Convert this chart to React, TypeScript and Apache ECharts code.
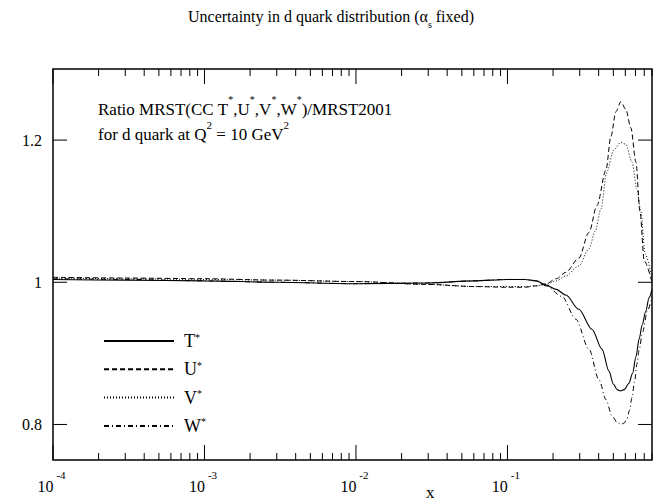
import React, { useEffect, useRef } from "react";
import * as echarts from "echarts";

// ---- data ----
const X_MIN = 1e-4;
const X_MAX = 0.9;
const Y_MIN = 0.75;
const Y_MAX = 1.3;

const xMajorTicks = [1e-4, 1e-3, 1e-2, 1e-1];
const xMinorMultipliers = [2, 3, 4, 5, 6, 7, 8, 9];
const yMajorTicks = [0.8, 1.0, 1.2];
const yTickLabels: Record<string, string> = { "0.8": "0.8", "1": "1", "1.2": "1.2" };

const tX = [1e-4, 3e-4, 1e-3, 3e-3, 1e-2, 3e-2, 0.06, 0.1, 0.13, 0.155, 0.18, 0.21, 0.243, 0.296, 0.361, 0.421, 0.468, 0.5, 0.53, 0.555, 0.59, 0.634, 0.67, 0.705, 0.74, 0.775, 0.82, 0.86, 0.9];
const tY = [1.004, 1.003, 1.002, 1.0, 0.998, 0.999, 1.002, 1.004, 1.004, 1.002, 0.996, 0.99, 0.982, 0.962, 0.934, 0.906, 0.875, 0.857, 0.849, 0.847, 0.849, 0.858, 0.872, 0.895, 0.92, 0.94, 0.96, 0.978, 0.99];

const uX = [1e-4, 3e-4, 1e-3, 3e-3, 1e-2, 3e-2, 0.06, 0.1, 0.13, 0.155, 0.18, 0.21, 0.243, 0.296, 0.345, 0.39, 0.447, 0.482, 0.52, 0.561, 0.605, 0.653, 0.705, 0.75, 0.8, 0.9];
const uY = [1.007, 1.006, 1.005, 1.003, 1.001, 0.997, 0.994, 0.993, 0.993, 0.995, 0.998, 1.005, 1.014, 1.034, 1.07, 1.108, 1.158, 1.205, 1.24, 1.254, 1.243, 1.217, 1.169, 1.099, 1.03, 1.0];

const vX = [1e-4, 3e-4, 1e-3, 3e-3, 1e-2, 3e-2, 0.06, 0.1, 0.13, 0.155, 0.18, 0.21, 0.243, 0.296, 0.345, 0.38, 0.414, 0.453, 0.503, 0.561, 0.605, 0.664, 0.716, 0.76, 0.81, 0.9];
const vY = [1.006, 1.005, 1.004, 1.003, 1.001, 0.997, 0.994, 0.994, 0.994, 0.995, 0.997, 1.002, 1.009, 1.023, 1.047, 1.072, 1.103, 1.155, 1.186, 1.197, 1.194, 1.169, 1.131, 1.1, 1.04, 1.005];

const wX = [1e-4, 3e-4, 1e-3, 3e-3, 1e-2, 3e-2, 0.06, 0.1, 0.13, 0.155, 0.18, 0.229, 0.283, 0.345, 0.402, 0.447, 0.49, 0.53, 0.561, 0.59, 0.615, 0.64, 0.664, 0.69, 0.716, 0.74, 0.78, 0.84, 0.9];
const wY = [1.005, 1.004, 1.002, 1.0, 0.998, 0.999, 1.002, 1.004, 1.004, 1.002, 0.995, 0.98, 0.948, 0.906, 0.863, 0.835, 0.812, 0.803, 0.8, 0.802, 0.808, 0.82, 0.838, 0.86, 0.885, 0.905, 0.93, 0.96, 0.98];

const seriesNames = ["T", "U", "V", "W"];
const title = "Uncertainty in d quark distribution (α";
const titleSub = "s";
const titleEnd = " fixed)";
const xAxisTitle = "x";

const FONT = "Liberation Serif";

const zip = (xs: number[], ys: number[]) => xs.map((x, i) => [x, ys[i]]);

export default function App() {
  const ref = useRef<HTMLDivElement>(null);
  useEffect(() => {
    document.body.style.margin = "0";
    if (!ref.current) return;
    const chart = echarts.init(ref.current, undefined, { renderer: "svg" });

    const xMinorTicks: number[] = [];
    xMajorTicks.forEach((d) => {
      xMinorMultipliers.forEach((m) => {
        const v = m * d;
        if (v <= X_MAX + 1e-9) xMinorTicks.push(v);
      });
    });
    const xTickData = [
      ...xMajorTicks.map((v) => [v, 1]),
      ...xMinorTicks.map((v) => [v, 0]),
    ];
    const yTickData = yMajorTicks.map((v) => [X_MIN, v]);

    const lineStyleFor: Record<string, any> = {
      T: { type: "solid", width: 1.1 },
      U: { type: [5, 3], width: 1 },
      V: { type: [1, 2], width: 1 },
      W: { type: [5, 3, 1, 3], width: 1 },
    };
    const dataFor: Record<string, number[][]> = {
      T: zip(tX, tY),
      U: zip(uX, uY),
      V: zip(vX, vY),
      W: zip(wX, wY),
    };

    const option: any = {
      animation: false,
      backgroundColor: "#fff",
      title: {
        text: `{m|${title}}{s|${titleSub}}{m|${titleEnd}}`,
        left: 326,
        textAlign: "center",
        top: 3,
        textStyle: {
          fontWeight: "normal",
          rich: {
            m: { fontFamily: FONT, fontSize: 16, fontWeight: "normal", color: "#000", lineHeight: 21, verticalAlign: "top" },
            s: { fontFamily: FONT, fontSize: 10, fontWeight: "normal", color: "#000", lineHeight: 11, verticalAlign: "bottom" },
          },
        },
      },
      grid: {
        left: 53,
        right: 3,
        top: 69,
        bottom: 42,
        show: true,
        borderColor: "#000",
        borderWidth: 1.5,
        backgroundColor: "transparent",
      },
      xAxis: {
        type: "log",
        logBase: 10,
        min: X_MIN,
        max: X_MAX,
        axisLine: { show: false },
        axisTick: { show: false },
        splitLine: { show: false },
        axisLabel: {
          margin: 9,
          showMaxLabel: false,
          formatter: (v: number) => {
            const l = Math.log10(v);
            const e = Math.round(l);
            if (Math.abs(l - e) > 1e-6) return "";
            return `{b|10}{e|${e}}`;
          },
          rich: {
            b: { fontFamily: FONT, fontSize: 16, color: "#000", lineHeight: 25, verticalAlign: "bottom" },
            e: { fontFamily: FONT, fontSize: 11, color: "#000", lineHeight: 13, verticalAlign: "top", padding: [0, 3, 0, 3] },
          },
        },
      },
      yAxis: {
        type: "value",
        min: Y_MIN,
        max: Y_MAX,
        axisLine: { show: false },
        axisTick: { show: false },
        splitLine: { show: false },
        axisLabel: {
          margin: 11,
          fontFamily: FONT,
          fontSize: 16,
          color: "#000",
          formatter: (v: number) => {
            const k = String(Math.round(v * 100) / 100);
            return yTickLabels[k] ?? "";
          },
        },
      },
      legend: {
        orient: "vertical",
        left: 98,
        top: 327,
        itemWidth: 70,
        itemHeight: 14,
        itemGap: 10.3,
        data: seriesNames,
        itemStyle: { color: "rgba(0,0,0,0)", borderColor: "rgba(0,0,0,0)", borderWidth: 0 },
        formatter: (name: string) => `{n|${name}}{s|*}`,
        textStyle: {
          fontFamily: FONT,
          fontSize: 18,
          color: "#000",
          rich: {
            n: { fontFamily: FONT, fontSize: 18, color: "#000", lineHeight: 18, verticalAlign: "bottom", padding: [0, 0, 0, 5] },
            s: { fontFamily: FONT, fontSize: 10, color: "#000", lineHeight: 10, verticalAlign: "top" },
          },
        },
      },
      graphic: [
        {
          type: "text",
          left: 98,
          top: 94,
          style: {
            text: "{m|Ratio MRST(CC T}{s|*}{m|,U}{s|*}{m|,V}{s|*}{m|,W}{s|*}{m|)/MRST2001}",
            rich: {
              m: { fontFamily: FONT, fontSize: 17, fill: "#000", lineHeight: 24, verticalAlign: "bottom" },
              s: { fontFamily: FONT, fontSize: 10, fill: "#000", lineHeight: 12, verticalAlign: "top" },
            },
          },
        },
        {
          type: "text",
          left: 98,
          top: 119,
          style: {
            text: "{m|for d quark at Q}{s|2}{m| = 10 GeV}{s|2}",
            rich: {
              m: { fontFamily: FONT, fontSize: 17, fill: "#000", lineHeight: 24, verticalAlign: "bottom" },
              s: { fontFamily: FONT, fontSize: 11, fill: "#000", lineHeight: 12, verticalAlign: "top" },
            },
          },
        },
        {
          type: "text",
          left: 426,
          top: 484,
          style: { text: xAxisTitle, fontFamily: FONT, fontSize: 17, fill: "#000" },
        },
      ],
      series: [
        ...seriesNames.map((n) => ({
          name: n,
          type: "line",
          data: dataFor[n],
          symbol: "none",
          smooth: 0.3,
          smoothMonotone: "x",
          lineStyle: { color: "#000", ...lineStyleFor[n] },
          itemStyle: { color: "#000" },
          silent: true,
        })),
        {
          type: "custom",
          silent: true,
          clip: false,
          data: xTickData,
          encode: { x: 0 },
          renderItem: (_p: any, api: any) => {
            const v = api.value(0);
            const major = api.value(1) === 1;
            const b = api.coord([v, Y_MIN]);
            const t = api.coord([v, Y_MAX]);
            const len = major ? 15 : 7;
            return {
              type: "group",
              children: [
                { type: "line", shape: { x1: b[0], y1: b[1], x2: b[0], y2: b[1] - len }, style: { stroke: "#000", lineWidth: 1 } },
                { type: "line", shape: { x1: t[0], y1: t[1], x2: t[0], y2: t[1] + len }, style: { stroke: "#000", lineWidth: 1 } },
              ],
            };
          },
        },
        {
          type: "custom",
          silent: true,
          clip: false,
          data: yTickData,
          encode: { x: 0, y: 1 },
          renderItem: (_p: any, api: any) => {
            const v = api.value(1);
            const l = api.coord([X_MIN, v]);
            const r = api.coord([X_MAX, v]);
            return {
              type: "group",
              children: [
                { type: "line", shape: { x1: l[0], y1: l[1], x2: l[0] + 14, y2: l[1] }, style: { stroke: "#000", lineWidth: 1 } },
                { type: "line", shape: { x1: r[0], y1: r[1], x2: r[0] - 14, y2: r[1] }, style: { stroke: "#000", lineWidth: 1 } },
              ],
            };
          },
        },
      ],
    };
    chart.setOption(option);
    return () => chart.dispose();
  }, []);
  return <div ref={ref} style={{ position: "absolute", left: 0, top: 0, width: 655, height: 502 }} />;
}
